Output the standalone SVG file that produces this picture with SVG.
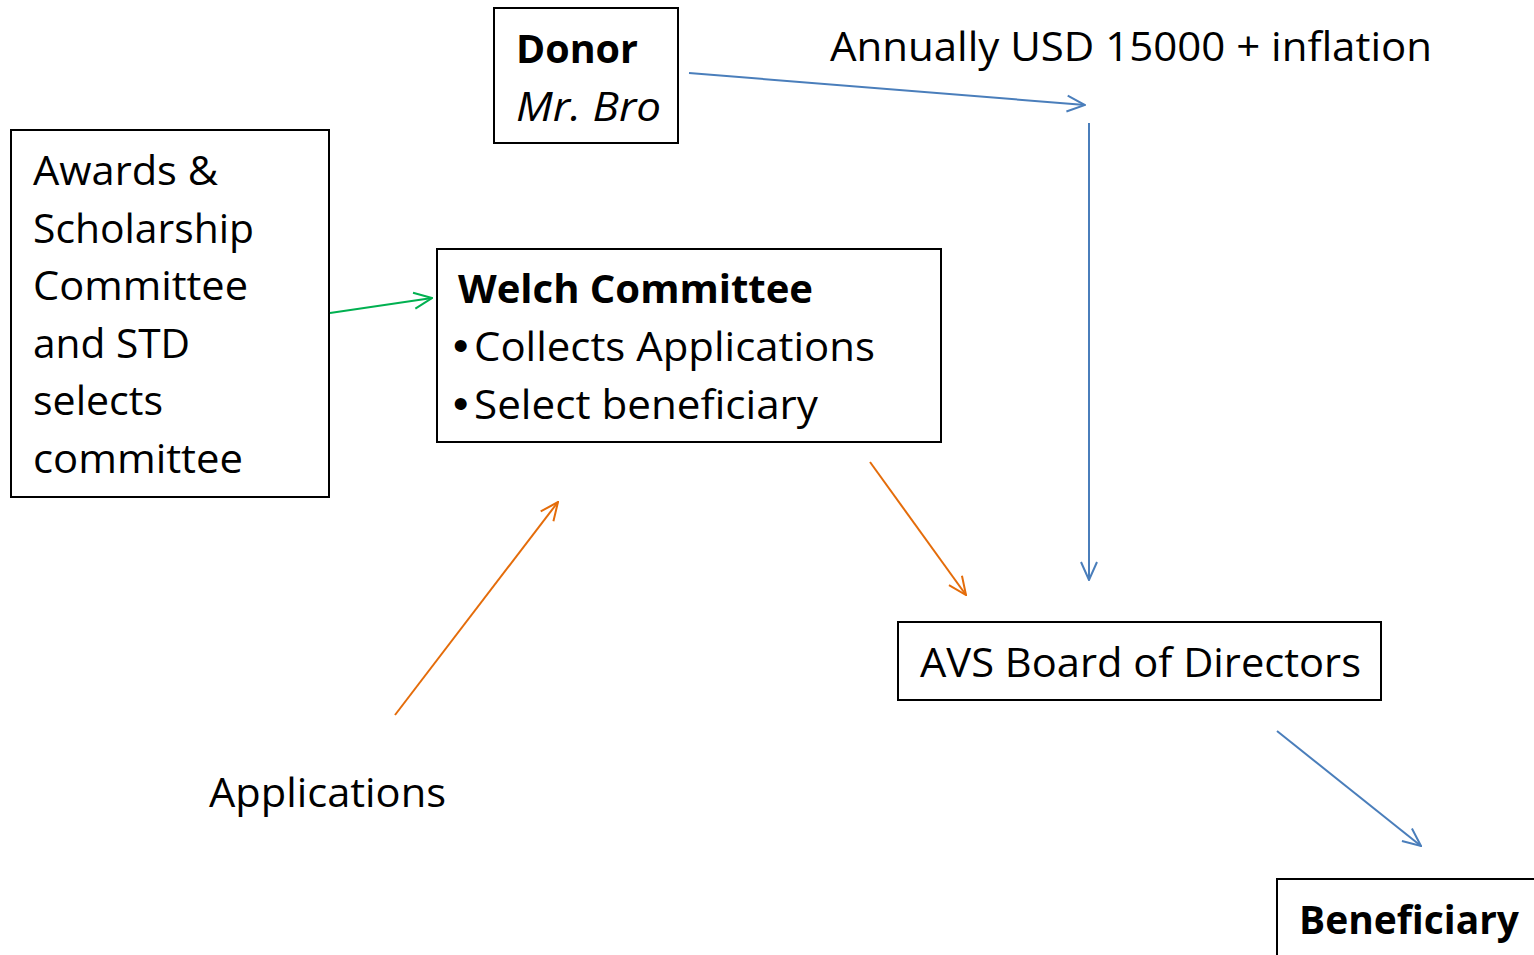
<svg xmlns="http://www.w3.org/2000/svg" width="1534" height="955" viewBox="0 0 1534 955">
<style>
.box{fill:#fff;stroke:#000;stroke-width:2}
.t{font-family:"Open Sans","Liberation Sans",sans-serif;font-size:40px;fill:#000}
.b{font-weight:bold}
.i{font-style:italic}
.c{fill:none;stroke-width:2}
.bul{font-family:"Liberation Sans",sans-serif;font-size:44px}
</style>
<defs>
<marker id="ab" viewBox="0 0 20 20" refX="19" refY="10" markerWidth="20" markerHeight="20" markerUnits="userSpaceOnUse" orient="auto"><path d="M1,2 L19,10 L1,18" fill="none" stroke="#4a7ebb" stroke-width="2"/></marker>
<marker id="ag" viewBox="0 0 20 20" refX="19" refY="10" markerWidth="20" markerHeight="20" markerUnits="userSpaceOnUse" orient="auto"><path d="M1,2 L19,10 L1,18" fill="none" stroke="#00b050" stroke-width="2"/></marker>
<marker id="ao" viewBox="0 0 20 20" refX="19" refY="10" markerWidth="20" markerHeight="20" markerUnits="userSpaceOnUse" orient="auto"><path d="M1,2 L19,10 L1,18" fill="none" stroke="#e46c0a" stroke-width="2"/></marker>
</defs>
<rect width="1534" height="955" fill="#fff"/>
<g id="donor">
<rect class="box" x="494" y="8" width="184" height="135"/>
<text class="t b" x="516" y="63" textLength="122" lengthAdjust="spacingAndGlyphs">Donor</text>
<text class="t i" x="516" y="121" textLength="145" lengthAdjust="spacingAndGlyphs">Mr. Bro</text>
</g>
<g id="funding-label">
<text class="t" x="830" y="61" textLength="602" lengthAdjust="spacingAndGlyphs">Annually USD 15000 + inflation</text>
</g>
<g id="awards">
<rect class="box" x="11" y="130" width="318" height="367"/>
<text class="t" x="33" y="185" textLength="185" lengthAdjust="spacingAndGlyphs">Awards &amp;</text>
<text class="t" x="33" y="243" textLength="221" lengthAdjust="spacingAndGlyphs">Scholarship</text>
<text class="t" x="33" y="300" textLength="215" lengthAdjust="spacingAndGlyphs">Committee</text>
<text class="t" x="33" y="358" textLength="157" lengthAdjust="spacingAndGlyphs">and STD</text>
<text class="t" x="33" y="415" textLength="130" lengthAdjust="spacingAndGlyphs">selects</text>
<text class="t" x="33" y="473" textLength="210" lengthAdjust="spacingAndGlyphs">committee</text>
</g>
<g id="welch">
<rect class="box" x="437" y="249" width="504" height="193"/>
<text class="t b" x="458" y="303" textLength="355" lengthAdjust="spacingAndGlyphs">Welch Committee</text>
<text class="t" x="453" y="361"><tspan class="bul">•</tspan><tspan x="474" textLength="401" lengthAdjust="spacingAndGlyphs">Collects Applications</tspan></text>
<text class="t" x="453" y="419"><tspan class="bul">•</tspan><tspan x="474" textLength="344" lengthAdjust="spacingAndGlyphs">Select beneficiary</tspan></text>
</g>
<g id="avs">
<rect class="box" x="898" y="622" width="483" height="78"/>
<text class="t" x="920" y="677" textLength="441" lengthAdjust="spacingAndGlyphs">AVS Board of Directors</text>
</g>
<g id="applications">
<text class="t" x="209" y="807" textLength="237" lengthAdjust="spacingAndGlyphs">Applications</text>
</g>
<g id="beneficiary">
<rect class="box" x="1277" y="879" width="270" height="90"/>
<text class="t b" x="1299" y="934" textLength="220" lengthAdjust="spacingAndGlyphs">Beneficiary</text>
</g>
<g id="connectors">
<line class="c" x1="689" y1="73" x2="1085" y2="105" stroke="#4a7ebb" marker-end="url(#ab)"/>
<line class="c" x1="1089" y1="123" x2="1089" y2="580" stroke="#4a7ebb" marker-end="url(#ab)"/>
<line class="c" x1="1277" y1="731" x2="1421" y2="846" stroke="#4a7ebb" marker-end="url(#ab)"/>
<line class="c" x1="330" y1="313" x2="432" y2="298" stroke="#00b050" marker-end="url(#ag)"/>
<line class="c" x1="870" y1="462" x2="966" y2="595" stroke="#e46c0a" marker-end="url(#ao)"/>
<line class="c" x1="395" y1="715" x2="558" y2="502" stroke="#e46c0a" marker-end="url(#ao)"/>
</g>
</svg>
